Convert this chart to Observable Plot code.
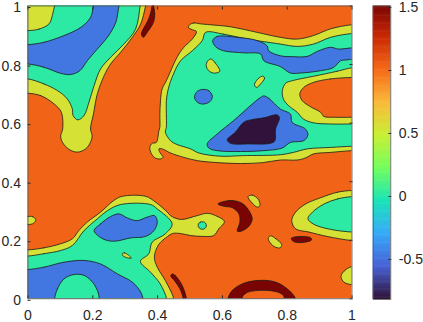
<!DOCTYPE html>
<html>
<head>
<meta charset="utf-8">
<script src="https://cdn.jsdelivr.net/npm/d3@7"></script>
<script src="https://cdn.jsdelivr.net/npm/@observablehq/plot@0.6"></script>
<style>
html,body{margin:0;padding:0;background:#fff;}
#wrap{position:relative;width:423px;height:322px;overflow:hidden;}
#wrap svg{position:absolute;left:0;top:0;}
</style>
</head>
<body>
<div id="wrap"></div>
<script>
const valueMin = -0.83, valueMax = 1.5;
const turboStops = ["#30123B","#4662D7","#36AAF9","#1AE4B6","#72FE5E","#C8EF34","#FABA39","#F66B19","#CB2A04","#7A0403"];
const axisTicks = [0,0.2,0.4,0.6,0.8,1];
const barTicks = [-0.5,0,0.5,1,1.5];
const levelNavy=-0.83, levelBlue=-0.5, levelGreen=0, levelYellow=0.53, levelOrange=1.01, levelRed=1.5;

// contour outlines, in data units
const yellowNW=[[0,.702],[.039,.694],[.080,.666],[.103,.637],[.107,.580],[.101,.557],[.106,.535],[.127,.510],[.152,.501],[.178,.512],[.193,.535],[.198,.557],[.193,.580],[.202,.631],[.214,.700],[.235,.762],[.255,.802],[.286,.842],[.322,.893],[.348,.939],[.363,1],[.37,1.03],[-.03,1.03],[-.03,.702]];
const greenNW=[[0,.751],[.049,.734],[.091,.711],[.121,.683],[.137,.648],[.139,.626],[.154,.611],[.173,.626],[.188,.671],[.204,.728],[.224,.785],[.255,.825],[.296,.870],[.332,.921],[.346,1],[.35,1.03],[-.03,1.03],[-.03,.751]];
const blueNW=[[0,.802],[.049,.791],[.101,.770],[.132,.766],[.160,.779],[.183,.813],[.214,.853],[.245,.893],[.271,.944],[.281,1],[.29,1.03],[-.03,1.03],[-.03,.802]];
const greenCorner=[[0,.868],[.049,.876],[.111,.899],[.163,.927],[.193,.961],[.202,1],[.21,1.03],[-.03,1.03],[-.03,.868]];
const yellowCorner=[[0,.916],[.034,.921],[.065,.939],[.075,.967],[.082,1],[.09,1.03],[-.03,1.03],[-.03,.916]];
const redTop=[[.385,1.01],[.391,.973],[.387,.944],[.368,.910],[.356,.893],[.350,.904],[.356,.922],[.370,.950],[.379,.978]];
const yellowMid=[[.499,.936],[.512,.942],[.532,.939],[.563,.936],[.625,.929],[.707,.910],[.779,.893],[.831,.887],[.881,.899],[.934,.922],[1,.936],[1.03,.936],[1.03,.506],[1,.506],[.934,.500],[.882,.495],[.856,.481],[.831,.474],[.779,.474],[.724,.465],[.656,.462],[.573,.466],[.522,.472],[.481,.483],[.440,.498],[.414,.512],[.404,.512],[.407,.500],[.417,.483],[.409,.478],[.394,.480],[.381,.495],[.376,.517],[.383,.531],[.396,.534],[.404,.574],[.407,.586],[.407,.631],[.409,.677],[.414,.717],[.427,.745],[.461,.827],[.481,.859],[.507,.887],[.520,.913],[.507,.919],[.495,.927]];
const greenMid=[[.548,.910],[.603,.904],[.677,.887],[.748,.875],[.779,.870],[.831,.862],[.881,.870],[.934,.893],[1,.906],[1.03,.906],[1.03,.521],[1,.521],[.934,.517],[.862,.512],[.819,.500],[.779,.492],[.665,.489],[.594,.487],[.527,.498],[.502,.512],[.460,.527],[.440,.540],[.424,.569],[.427,.586],[.427,.632],[.427,.677],[.433,.717],[.449,.768],[.471,.813],[.507,.847],[.538,.882]];
const blueBand=[[.570,.882],[.584,.896],[.646,.893],[.707,.882],[.738,.864],[.743,.847],[.779,.830],[.819,.827],[.862,.828],[.893,.845],[.934,.859],[.958,.853],[1,.857],[1.03,.857],[1.03,.818],[1,.818],[.985,.816],[.965,.813],[.943,.790],[.903,.779],[.841,.771],[.810,.771],[.779,.793],[.728,.813],[.718,.836],[.666,.840],[.604,.847],[.579,.861]];
const yellowEast=[[1,.789],[.954,.777],[.881,.760],[.816,.745],[.795,.736],[.785,.711],[.788,.683],[.804,.660],[.831,.637],[.850,.614],[.881,.601],[.934,.597],[1,.597],[1.03,.597],[1.03,.789]];
const orangeEast=[[1,.756],[.934,.751],[.881,.739],[.851,.722],[.839,.700],[.846,.677],[.872,.656],[.903,.637],[.913,.623],[.944,.620],[1,.620],[1.03,.620],[1.03,.756]];
const yellowSpotA=[[.565,.819],[.576,.808],[.592,.777],[.573,.771],[.558,.779],[.550,.796],[.555,.813]];
const yellowSpotB=[[.726,.760],[.730,.753],[.718,.734],[.706,.722],[.699,.730],[.705,.745],[.715,.756]];
const blueSpot=[[.538,.715],[.558,.711],[.569,.691],[.561,.673],[.538,.665],[.520,.674],[.514,.690],[.522,.708]];
const blueTriangle=[[.728,.693],[.743,.685],[.779,.648],[.810,.631],[.815,.603],[.856,.580],[.864,.560],[.851,.540],[.810,.534],[.785,.515],[.728,.506],[.656,.503],[.584,.506],[.558,.515],[.553,.529],[.584,.563],[.635,.609],[.692,.665],[.718,.688]];
const navyCore=[[.687,.611],[.728,.618],[.769,.628],[.776,.618],[.764,.580],[.762,.540],[.748,.531],[.677,.529],[.625,.531],[.615,.543],[.640,.569],[.666,.603]];
const yellowSW=[[0,.167],[.049,.174],[.101,.188],[.137,.205],[.157,.233],[.183,.262],[.224,.296],[.265,.336],[.291,.350],[.363,.350],[.394,.330],[.430,.296],[.440,.284],[.471,.271],[.522,.284],[.553,.292],[.579,.284],[.606,.264],[.589,.239],[.573,.216],[.543,.213],[.502,.216],[.471,.223],[.446,.223],[.431,.213],[.403,.185],[.390,.142],[.399,.108],[.424,.062],[.450,0],[.45,-.03],[-.03,-.03],[-.03,.167]];
const greenSW=[[0,.146],[.049,.154],[.101,.165],[.137,.182],[.173,.233],[.214,.273],[.245,.301],[.286,.322],[.378,.322],[.399,.307],[.445,.256],[.424,.222],[.383,.193],[.373,.154],[.347,.128],[.378,.091],[.408,.051],[.428,0],[.43,-.03],[-.03,-.03],[-.03,.146]];
const blueSW=[[0,.100],[.049,.108],[.111,.125],[.173,.131],[.224,.119],[.276,.085],[.322,.057],[.348,.023],[.355,0],[.36,-.03],[-.03,-.03],[-.03,.100]];
const greenDome=[[.082,0],[.091,.034],[.111,.068],[.142,.083],[.173,.080],[.199,.057],[.216,.023],[.220,0],[.22,-.03],[.082,-.03]];
const blueLobe=[[.204,.233],[.224,.256],[.255,.281],[.281,.290],[.307,.276],[.337,.267],[.368,.279],[.391,.284],[.399,.262],[.389,.233],[.363,.213],[.317,.208],[.271,.197],[.245,.199],[.219,.213]];
const yellowSliver=[[.291,.154],[.298,.157],[.319,.139],[.307,.140],[.294,.146]];
const yellowWest=[[0,.281],[.013,.281],[.024,.270],[.017,.258],[0,.253],[-.03,.253],[-.03,.281]];
const redStrip=[[.445,.085],[.455,.079],[.476,.045],[.489,0],[.489,-.03],[.479,-.03],[.479,0],[.469,.034],[.452,.062],[.441,.078]];
const greenDot=[[.526,.256],[.532,.262],[.544,.262],[.550,.254],[.549,.244],[.542,.238],[.532,.239],[.526,.246]];
const redCrescent=[[.586,.324],[.625,.336],[.661,.326],[.682,.301],[.692,.273],[.682,.248],[.658,.231],[.646,.231],[.654,.262],[.651,.290],[.631,.311],[.605,.316]];
const yellowFleck=[[.679,.349],[.692,.354],[.710,.341],[.716,.319],[.708,.313],[.692,.327]];
const yellowSE=[[1,.370],[.955,.364],[.903,.345],[.857,.324],[.826,.296],[.814,.267],[.826,.239],[.867,.228],[.923,.213],[1,.199],[1.03,.199],[1.03,.370]];
const greenSE=[[1,.349],[.955,.341],[.914,.324],[.878,.296],[.864,.273],[.883,.254],[.934,.237],[1,.228],[1.03,.228],[1.03,.349]];
const yellowDrop=[[.749,.215],[.765,.205],[.783,.185],[.778,.174],[.759,.179],[.744,.197],[.742,.208]];
const redDash=[[.813,.207],[.841,.213],[.873,.208],[.875,.201],[.852,.193],[.826,.193],[.814,.201]];
const yellowEdge=[[1,.110],[.980,.099],[.966,.077],[.975,.057],[1,.048],[1.03,.048],[1.03,.110]];
const redArch=[[.617,0],[.630,.028],[.666,.053],[.718,.063],[.764,.057],[.800,.034],[.826,0],[.826,-.03],[.617,-.03]];
const orangeArch=[[.659,0],[.672,.019],[.703,.028],[.759,.026],[.785,.015],[.792,0],[.792,-.03],[.659,-.03]];

const regions=[
 [levelYellow,yellowNW],[levelGreen,greenNW],[levelBlue,blueNW],[levelGreen,greenCorner],[levelYellow,yellowCorner],[levelRed,redTop],
 [levelYellow,yellowMid],[levelGreen,greenMid],[levelBlue,blueBand],[levelYellow,yellowEast],[levelOrange,orangeEast],
 [levelYellow,yellowSpotA],[levelYellow,yellowSpotB],[levelBlue,blueSpot],[levelBlue,blueTriangle],[levelNavy,navyCore],
 [levelYellow,yellowSW],[levelGreen,greenSW],[levelBlue,blueSW],[levelGreen,greenDome],[levelBlue,blueLobe],[levelYellow,yellowSliver],[levelYellow,yellowWest],
 [levelRed,redStrip],[levelGreen,greenDot],[levelRed,redCrescent],[levelYellow,yellowFleck],[levelYellow,yellowSE],[levelGreen,greenSE],
 [levelYellow,yellowDrop],[levelRed,redDash],[levelYellow,yellowEdge],[levelRed,redArch],[levelOrange,orangeArch]
];
const rows=regions.flatMap(([level,pts],id)=>pts.map(([x,y])=>({id,level,x,y})));

const ink="#262626", font="'Liberation Sans',Arial,sans-serif";
const colorOpts={type:"linear",domain:[valueMin,valueMax],interpolate:d3.piecewise(d3.interpolateRgb,turboStops)};

const main=Plot.plot({
  width:423,height:322,marginLeft:27.5,marginRight:71.5,marginTop:5.5,marginBottom:23.7,
  style:{fontFamily:font,fontSize:"14px",background:"transparent",overflow:"visible",color:ink},
  x:{domain:[0,1]},y:{domain:[0,1]},color:colorOpts,
  marks:[
    Plot.rect([levelOrange],{x1:()=>0,x2:()=>1,y1:()=>0,y2:()=>1,fill:d=>d}),
    Plot.line(rows,{x:"x",y:"y",z:"id",fill:"level",stroke:"#1a1a1a",strokeWidth:0.8,curve:"catmull-rom-closed",clip:true}),
    Plot.axisX({anchor:"bottom",ticks:axisTicks,tickSize:-3,tickPadding:14,tickFormat:d=>String(d),label:null,stroke:ink,fill:ink,dy:0}),
    Plot.axisX({anchor:"top",ticks:axisTicks,tickSize:-3,tickFormat:()=>"",label:null,stroke:ink}),
    Plot.axisY({anchor:"left",ticks:axisTicks,tickSize:-3,tickPadding:10,tickFormat:d=>String(d),label:null,stroke:ink,fill:ink,dy:1.5}),
    Plot.axisY({anchor:"right",ticks:axisTicks,tickSize:-3,tickFormat:()=>"",label:null,stroke:ink}),
    Plot.frame({stroke:"#555",strokeWidth:0.8})
  ]
});
const barStep=(valueMax-valueMin)/256;
const barLevels=d3.range(256).map(i=>valueMin+i*barStep);
const bar=Plot.plot({
  width:423,height:322,marginLeft:372.7,marginRight:32.7,marginTop:5.5,marginBottom:23,
  style:{fontFamily:font,fontSize:"14px",background:"transparent",overflow:"visible",color:ink},
  x:{domain:[0,1],axis:null},y:{domain:[valueMin,valueMax],axis:null},color:colorOpts,
  marks:[
    Plot.rect(barLevels,{x1:()=>0,x2:()=>1,y1:d=>d,y2:d=>Math.min(valueMax,d+barStep*1.5),fill:d=>d}),
    Plot.axisY({anchor:"right",ticks:barTicks,tickSize:-3,tickPadding:11,tickFormat:d=>String(d),label:null,stroke:ink,fill:ink,dy:1.5}),
    Plot.frame({stroke:"#555",strokeWidth:0.8})
  ]
});
const wrap=document.getElementById("wrap");
wrap.append(main);wrap.append(bar);
</script>
</body>
</html>
